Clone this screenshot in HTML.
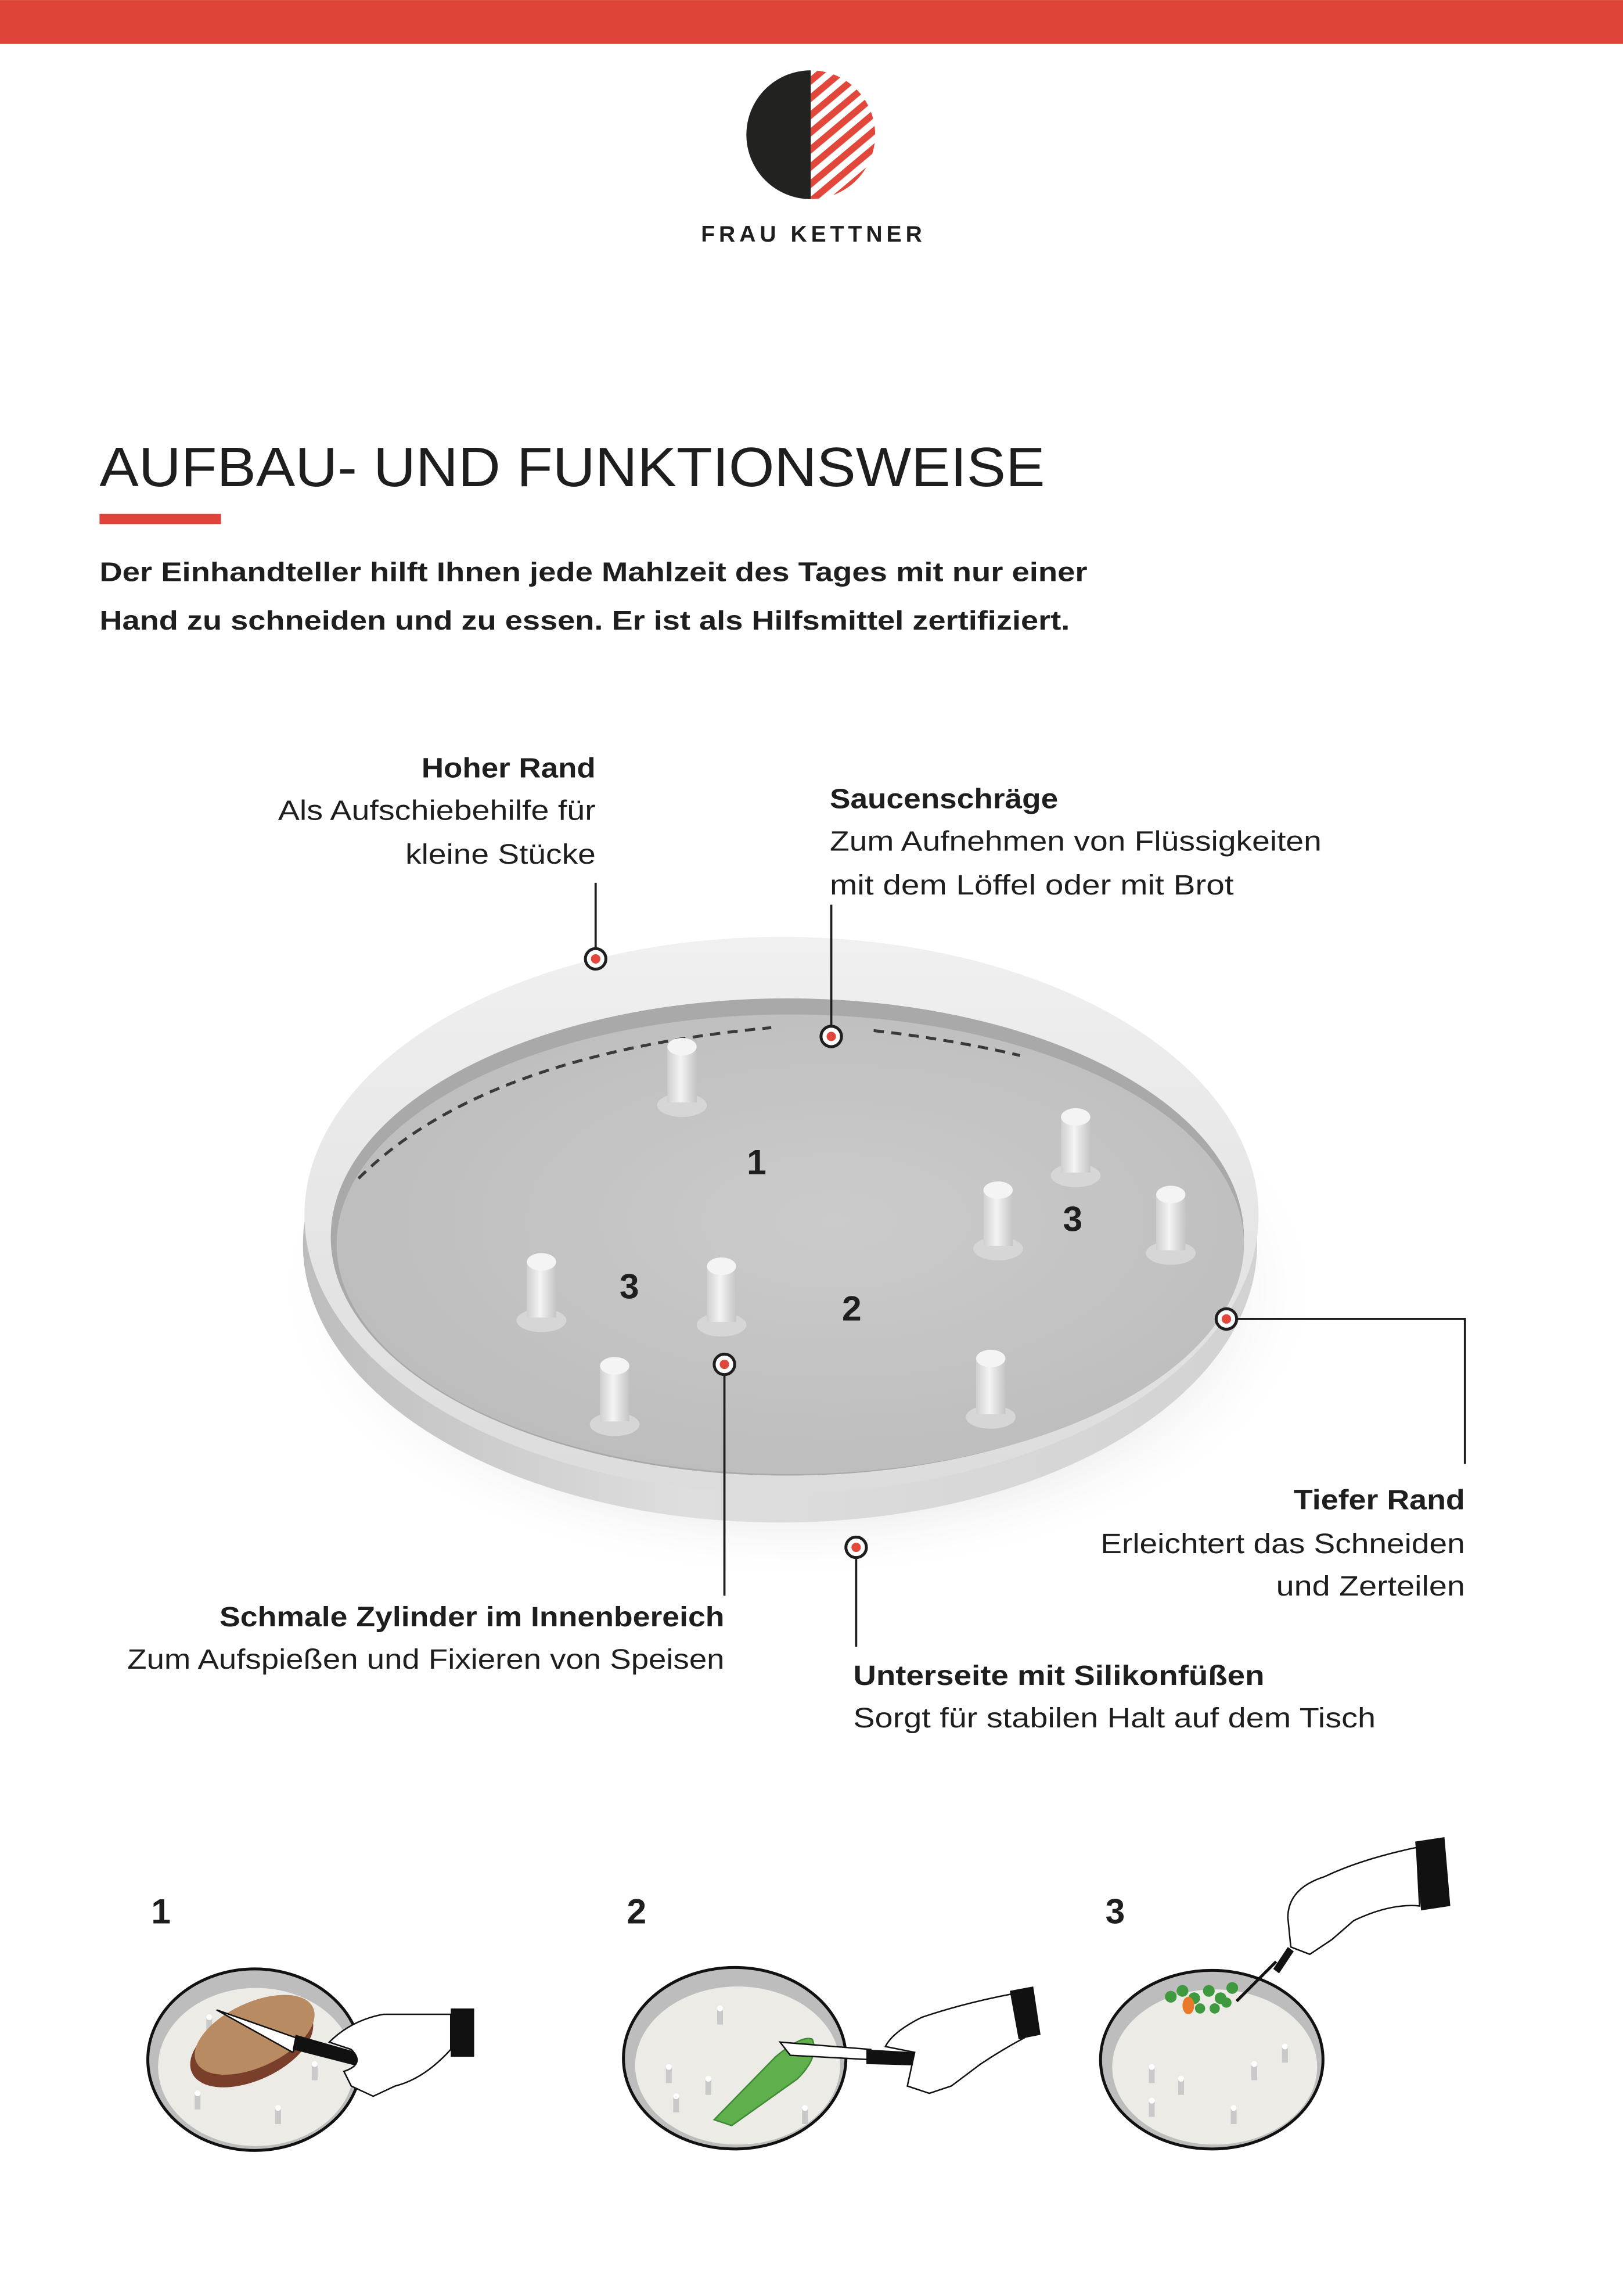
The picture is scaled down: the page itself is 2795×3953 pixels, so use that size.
<!DOCTYPE html>
<html><head><meta charset="utf-8">
<style>
html,body{margin:0;padding:0;background:#fff;}
svg{display:block;}
text{font-family:"Liberation Sans",sans-serif;fill:#1e1e1e;}
.b{font-weight:bold;}
.l{font-size:19px;}
</style></head>
<body>
<svg width="2795" height="3953" viewBox="0 0 1109 1568.4" xmlns="http://www.w3.org/2000/svg">
<defs>
  <clipPath id="rh"><path d="M554 48 A44 44 0 0 1 554 136 Z"/></clipPath>
  <pattern id="st" width="9" height="9" patternUnits="userSpaceOnUse" patternTransform="rotate(-40)">
    <rect width="9" height="4.6" fill="#e2473b"/>
  </pattern>
  <radialGradient id="floor" cx="0.55" cy="0.45" r="0.65">
    <stop offset="0" stop-color="#cbcbcb"/><stop offset="1" stop-color="#bbbbbb"/>
  </radialGradient>
  <linearGradient id="rim" x1="0" y1="0" x2="0" y2="1">
    <stop offset="0" stop-color="#f0f0f0"/><stop offset="1" stop-color="#dcdcdc"/>
  </linearGradient>
  <linearGradient id="wall" x1="0" y1="0" x2="1" y2="0">
    <stop offset="0" stop-color="#bdbdbd"/><stop offset="0.4" stop-color="#dedede"/><stop offset="1" stop-color="#d2d2d2"/>
  </linearGradient>
  <radialGradient id="shd" cx="0.5" cy="0.5" r="0.5">
    <stop offset="0.6" stop-color="#cfcfcf"/><stop offset="1" stop-color="#fff" stop-opacity="0"/>
  </radialGradient>
  <linearGradient id="peg" x1="0" y1="0" x2="1" y2="0">
    <stop offset="0" stop-color="#cfcfcf"/><stop offset="0.45" stop-color="#f4f4f4"/><stop offset="1" stop-color="#c4c4c4"/>
  </linearGradient>
  <g id="pg">
    <ellipse cx="0" cy="40" rx="17" ry="8" fill="#d6d6d6"/>
    <rect x="-10" y="0" width="20" height="38" fill="url(#peg)"/>
    <ellipse cx="0" cy="0" rx="10" ry="6" fill="#f4f4f4"/>
  </g>
  <g id="mk">
    <circle r="7" fill="#fff" stroke="#1e1e1e" stroke-width="2"/>
    <circle r="3.2" fill="#e2473b"/>
  </g>
  <g id="sp"><rect x="-2" y="0" width="4" height="11" fill="#c9c9c9"/><circle cx="0" cy="0" r="2" fill="#fff"/></g>
</defs>

<rect x="0" y="0" width="1109" height="30" fill="#df443a"/>

<!-- logo -->
<path d="M554 48 A44 44 0 0 0 554 136 Z" fill="#222220"/>
<rect x="554" y="48" width="46" height="88" fill="url(#st)" clip-path="url(#rh)"/>
<text x="479" y="165" class="b" font-size="15.5" textLength="151" lengthAdjust="spacing">FRAU KETTNER</text>

<text x="68" y="332" font-size="38" textLength="646" lengthAdjust="spacingAndGlyphs" fill="#222">AUFBAU- UND FUNKTIONSWEISE</text>
<rect x="68" y="351" width="83" height="7" fill="#df443a"/>
<text x="68" y="397" class="b" font-size="18.5" textLength="675" lengthAdjust="spacingAndGlyphs">Der Einhandteller hilft Ihnen jede Mahlzeit des Tages mit nur einer</text>
<text x="68" y="430" class="b" font-size="18.5" textLength="663" lengthAdjust="spacingAndGlyphs">Hand zu schneiden und zu essen. Er ist als Hilfsmittel zertifiziert.</text>

<!-- plate -->
<ellipse cx="545" cy="880" rx="360" ry="200" fill="url(#shd)"/>
<ellipse cx="533" cy="850" rx="326" ry="190" fill="url(#wall)"/>
<ellipse cx="534" cy="830" rx="326" ry="190" fill="url(#rim)"/>
<ellipse cx="538" cy="845" rx="312" ry="163" fill="#a9a9a9"/>
<ellipse cx="540" cy="850" rx="310" ry="157" fill="url(#floor)"/>
<path d="M245 805 Q330 720 527 702" fill="none" stroke="#3a3a3a" stroke-width="2" stroke-dasharray="7 5"/>
<path d="M597 704 Q650 710 697 721" fill="none" stroke="#3a3a3a" stroke-width="2" stroke-dasharray="7 5"/>

<use href="#pg" x="466" y="715"/>
<use href="#pg" x="735" y="763"/>
<use href="#pg" x="682" y="813"/>
<use href="#pg" x="800" y="816"/>
<use href="#pg" x="370" y="862"/>
<use href="#pg" x="493" y="865"/>
<use href="#pg" x="420" y="933"/>
<use href="#pg" x="677" y="928"/>

<text x="517" y="802" class="b" font-size="24" text-anchor="middle">1</text>
<text x="733" y="841" class="b" font-size="24" text-anchor="middle">3</text>
<text x="430" y="887" class="b" font-size="24" text-anchor="middle">3</text>
<text x="582" y="902" class="b" font-size="24" text-anchor="middle">2</text>

<!-- connectors -->
<g stroke="#1e1e1e" stroke-width="1.5" fill="none">
  <path d="M407 603 V648"/>
  <path d="M568 618 V701"/>
  <path d="M845 901 H1001 V1000"/>
  <path d="M495 939 V1090"/>
  <path d="M585 1064 V1125"/>
</g>
<use href="#mk" x="407" y="655"/>
<use href="#mk" x="568" y="708"/>
<use href="#mk" x="838" y="901"/>
<use href="#mk" x="495" y="932"/>
<use href="#mk" x="585" y="1057"/>

<!-- labels -->
<g class="l">
<text x="407" y="531" text-anchor="end" class="b" textLength="119" lengthAdjust="spacingAndGlyphs">Hoher Rand</text>
<text x="407" y="560" text-anchor="end" textLength="217" lengthAdjust="spacingAndGlyphs">Als Aufschiebehilfe für</text>
<text x="407" y="590" text-anchor="end" textLength="130" lengthAdjust="spacingAndGlyphs">kleine Stücke</text>
<text x="567" y="552" class="b" textLength="156" lengthAdjust="spacingAndGlyphs">Saucenschräge</text>
<text x="567" y="581" textLength="336" lengthAdjust="spacingAndGlyphs">Zum Aufnehmen von Flüssigkeiten</text>
<text x="567" y="611" textLength="276" lengthAdjust="spacingAndGlyphs">mit dem Löffel oder mit Brot</text>
<text x="1001" y="1031" text-anchor="end" class="b" textLength="117" lengthAdjust="spacingAndGlyphs">Tiefer Rand</text>
<text x="1001" y="1061" text-anchor="end" textLength="249" lengthAdjust="spacingAndGlyphs">Erleichtert das Schneiden</text>
<text x="1001" y="1090" text-anchor="end" textLength="129" lengthAdjust="spacingAndGlyphs">und Zerteilen</text>
<text x="495" y="1111" text-anchor="end" class="b" textLength="345" lengthAdjust="spacingAndGlyphs">Schmale Zylinder im Innenbereich</text>
<text x="495" y="1140" text-anchor="end" textLength="408" lengthAdjust="spacingAndGlyphs">Zum Aufspießen und Fixieren von Speisen</text>
<text x="583" y="1151" class="b" textLength="281" lengthAdjust="spacingAndGlyphs">Unterseite mit Silikonfüßen</text>
<text x="583" y="1180" textLength="357" lengthAdjust="spacingAndGlyphs">Sorgt für stabilen Halt auf dem Tisch</text>
</g>

<!-- bottom illustrations -->
<text x="110" y="1314" class="b" font-size="24" text-anchor="middle">1</text>
<text x="435" y="1314" class="b" font-size="24" text-anchor="middle">2</text>
<text x="762" y="1314" class="b" font-size="24" text-anchor="middle">3</text>

<g>
  <ellipse cx="174" cy="1407" rx="73" ry="62" fill="#bdbdbd" stroke="#111" stroke-width="2"/>
  <ellipse cx="175" cy="1412" rx="67" ry="54" fill="#ecebe6"/>
  <use href="#sp" x="143" y="1378"/><use href="#sp" x="135" y="1430"/><use href="#sp" x="190" y="1440"/><use href="#sp" x="215" y="1410"/>
  <ellipse cx="172" cy="1397" rx="45" ry="24" transform="rotate(-25 172 1397)" fill="#7a3f2a"/>
  <ellipse cx="174" cy="1390" rx="44" ry="22" transform="rotate(-25 174 1390)" fill="#b88b62"/>
  <path d="M148 1373 L205 1393 L200 1402 Z" fill="#fff" stroke="#111" stroke-width="1"/>
  <path d="M202 1390 L272 1410 L270 1418 L200 1400 Z" fill="#111"/>
  <path d="M308 1376 H262 Q240 1380 225 1395 L240 1400 Q250 1410 235 1415 L240 1425 L255 1432 L270 1425 Q290 1420 308 1400 Z" fill="#fff" stroke="#111" stroke-width="1"/>
  <rect x="308" y="1372" width="16" height="33" fill="#111"/>
</g>
<g>
  <ellipse cx="502" cy="1406" rx="76" ry="62" fill="#bdbdbd" stroke="#111" stroke-width="2"/>
  <ellipse cx="504" cy="1411" rx="70" ry="54" fill="#ecebe6"/>
  <use href="#sp" x="492" y="1372"/><use href="#sp" x="457" y="1412"/><use href="#sp" x="484" y="1420"/><use href="#sp" x="462" y="1432"/><use href="#sp" x="528" y="1410"/><use href="#sp" x="550" y="1440"/>
  <path d="M555 1393 Q560 1405 545 1420 L500 1452 L488 1448 L530 1405 Q548 1390 555 1393 Z" fill="#5fb04c" stroke="#3f8a35" stroke-width="1"/>
  <path d="M533 1395 L595 1400 L595 1407 L540 1404 Z" fill="#fff" stroke="#111" stroke-width="1"/>
  <path d="M592 1400 L662 1404 L662 1412 L592 1410 Z" fill="#111"/>
  <path d="M692 1362 Q660 1368 630 1378 Q610 1388 605 1398 L625 1402 L620 1425 L635 1430 L650 1425 L670 1410 Q685 1400 700 1392 Z" fill="#fff" stroke="#111" stroke-width="1"/>
  <path d="M690 1360 L706 1357 L711 1390 L696 1393 Z" fill="#111"/>
</g>
<g>
  <ellipse cx="828" cy="1407" rx="76" ry="61" fill="#bdbdbd" stroke="#111" stroke-width="2"/>
  <ellipse cx="830" cy="1412" rx="70" ry="53" fill="#ecebe6"/>
  <use href="#sp" x="787" y="1412"/><use href="#sp" x="807" y="1420"/><use href="#sp" x="787" y="1435"/><use href="#sp" x="843" y="1440"/><use href="#sp" x="857" y="1410"/><use href="#sp" x="878" y="1398"/>
  <g fill="#3f9a3f">
    <circle cx="800" cy="1364" r="4"/><circle cx="808" cy="1360" r="4"/><circle cx="816" cy="1365" r="4"/><circle cx="826" cy="1360" r="4"/><circle cx="834" cy="1365" r="4"/><circle cx="842" cy="1358" r="4"/><circle cx="820" cy="1372" r="3.5"/><circle cx="830" cy="1372" r="3.5"/><circle cx="838" cy="1368" r="3.5"/>
  </g>
  <ellipse cx="812" cy="1370" rx="4" ry="6" fill="#e8782a"/>
  <path d="M845 1367 L872 1340" stroke="#111" stroke-width="2"/>
  <path d="M870 1345 L880 1330 L884 1333 L874 1348 Z" fill="#111"/>
  <path d="M968 1262 Q930 1270 905 1282 Q880 1290 880 1310 L882 1330 L895 1335 L910 1325 L925 1312 Q950 1300 970 1302 Z" fill="#fff" stroke="#111" stroke-width="1"/>
  <path d="M967 1258 L987 1255 L991 1302 L971 1305 Z" fill="#111"/>
</g>
</svg>
</body></html>
